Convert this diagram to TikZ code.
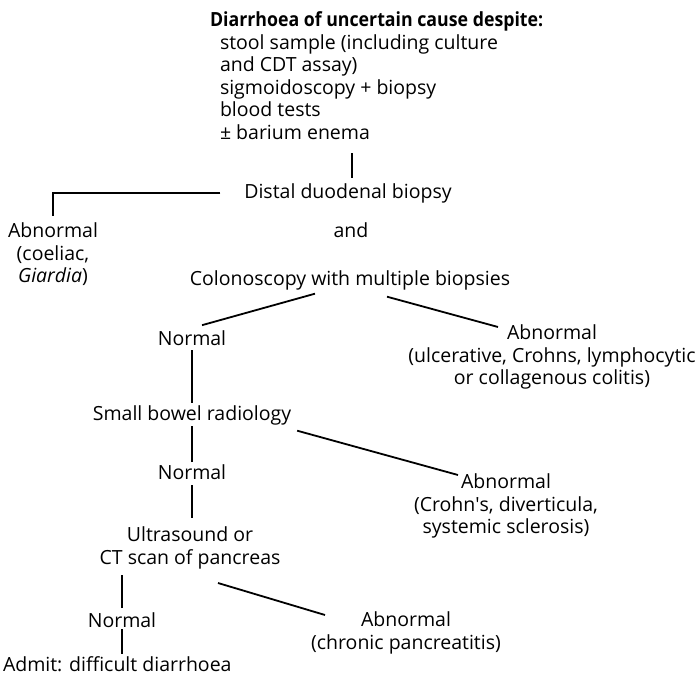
\documentclass[tikz,border=0pt]{standalone}
\usepackage{fontspec}
\setmainfont{Open Sans}
\usetikzlibrary{calc}
\begin{document}
\begin{tikzpicture}[x=1pt,y=-1pt,
  txt/.style={inner sep=0pt, outer sep=0pt, font=\fontsize{19.5}{22.5}\selectfont, align=center},
  conn/.style={line width=1.8pt, black}]
\useasboundingbox (0,0) rectangle (699,677);
% nodes
\node[txt, align=left, anchor=north west] (causes) at (220,12)
  {\hspace*{-10pt}\scalebox{0.91}[1]{\textbf{Diarrhoea of uncertain cause despite:}}\\
   stool sample (including culture\\
   and CDT assay)\\
   sigmoidoscopy + biopsy\\
   blood tests\\
   ± barium enema};
\node[txt, anchor=base] (distal) at (348,198) {Distal duodenal biopsy};
\node[txt, anchor=base] (and) at (351,237) {and};
\node[txt, anchor=base] (colon) at (350,285) {Colonoscopy with multiple biopsies};
\node[txt, anchor=north] (abn0) at (53,223) {Abnormal\\(coeliac,\\\textit{Giardia})};
\node[txt, anchor=base] (normal1) at (192,345) {Normal};
\node[txt, anchor=north] (abn1) at (552,325) {Abnormal\\(ulcerative, Crohns, lymphocytic\\or collagenous colitis)};
\node[txt, anchor=base] (smallbowel) at (192,420) {Small bowel radiology};
\node[txt, anchor=base] (normal2) at (192,479) {Normal};
\node[txt, anchor=north] (abn2) at (506,474) {Abnormal\\(Crohn\textquotesingle s, diverticula,\\systemic sclerosis)};
\node[txt, anchor=north] (us) at (190,527) {Ultrasound or\\CT scan of pancreas};
\node[txt, anchor=base] (normal3) at (122,627) {Normal};
\node[txt, anchor=north] (abn3) at (406,612) {Abnormal\\(chronic pancreatitis)};
\node[txt, anchor=base west] (admit) at (3,671) {Admit: difficult diarrhoea};
% connectors
\coordinate (tick) at (352,153);
\draw[conn, shorten >=5pt] (tick) -- (tick |- distal.north);
\draw[conn, shorten >=7pt] ([xshift=-24pt]distal.west) -| (abn0.north);
\draw[conn] ([shift={(-35,4)}]colon.south) -- ([shift={(10,-5)}]normal1.north);
\draw[conn] ([shift={(37,7)}]colon.south) -- ([shift={(-54,2)}]abn1.north);
\draw[conn, shorten <=5pt, shorten >=2pt] (normal1.south) -- (normal1.south |- smallbowel.north);
\draw[conn, shorten <=2pt, shorten >=1.5pt] (normal2.north) -- (normal2.north |- smallbowel.south);
\draw[conn, shorten <=6pt, shorten >=9pt] (normal2.south) -- (normal2.south |- us.north);
\draw[conn, shorten <=4pt, shorten >=6pt] (normal3.north) -- (normal3.north |- us.south);
\draw[conn, shorten <=2pt, shorten >=2pt] (normal3.south) -- (normal3.south |- admit.north);
\draw[conn] ([shift={(6,6)}]smallbowel.south east) -- ([shift={(-48,1)}]abn2.north);
\draw[conn] ([shift={(28,14)}]us.south) -- ([shift={(-81,3)}]abn3.north);
\end{tikzpicture}
\end{document}
